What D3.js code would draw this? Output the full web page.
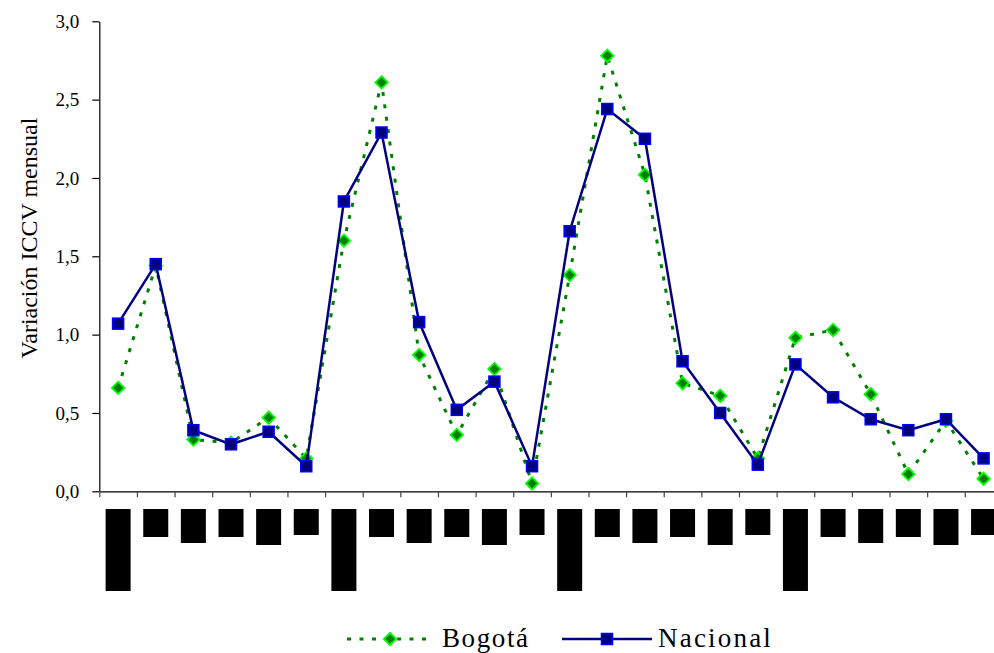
<!DOCTYPE html>
<html>
<head>
<meta charset="utf-8">
<script src="https://cdn.jsdelivr.net/npm/d3@7"></script>
<style>
  html, body { margin: 0; padding: 0; background: #fff; }
  svg { display: block; }
  svg text { font-family: "Liberation Serif", "DejaVu Serif", "Times New Roman", Times, serif; }
</style>
</head>
<body>
<svg id="chart" width="994" height="653"></svg>
<script>
// ---- data ----
const periods = d3.range(24);
const bogota = [0.66, 1.44, 0.33, 0.31, 0.47, 0.21, 1.60, 2.61, 0.87, 0.36, 0.78, 0.05,
                1.38, 2.78, 2.02, 0.69, 0.61, 0.21, 0.98, 1.03, 0.62, 0.11, 0.45, 0.08];
const nacional = [1.07, 1.45, 0.39, 0.30, 0.38, 0.16, 1.85, 2.29, 1.08, 0.52, 0.70, 0.16,
                  1.66, 2.44, 2.25, 0.83, 0.50, 0.17, 0.81, 0.60, 0.46, 0.39, 0.46, 0.21];
const yTicks = [0, 0.5, 1.0, 1.5, 2.0, 2.5, 3.0];
// category labels appear as solid black blocks in the original (relative label lengths)
const labelBlocks = [82, 28, 34, 28, 36, 26, 82, 28, 34, 28, 36, 26,
                     82, 28, 34, 28, 36, 26, 82, 28, 34, 28, 36, 26];
const seriesNames = ["Bogotá", "Nacional"];
const yTitle = "Variación ICCV mensual";

// ---- layout ----
const svg = d3.select("#chart");
const mLeft = 99.3, mRight = 1002.4, mTop = 21.3, mBottom = 491.3;
const fontSerif = '"Liberation Serif", "DejaVu Serif", "Times New Roman", Times, serif';

const x = d3.scaleBand().domain(periods).range([mLeft, mRight]).padding(0);
const xb = d3.scaleLinear().domain([0, periods.length]).range([mLeft, mRight]);
const y = d3.scaleLinear().domain([0, 3]).range([mBottom, mTop]);
const cx = i => x(i) + x.bandwidth() / 2;

// y axis
const yAxis = d3.axisLeft(y).tickValues(yTicks)
  .tickFormat(d => d.toFixed(1).replace(".", ","))
  .tickSize(7).tickSizeOuter(0).tickPadding(13);
const gy = svg.append("g").attr("transform", `translate(${mLeft},0)`).call(yAxis);
gy.attr("font-family", null).attr("font-size", null);
gy.selectAll("text").style("font-family", fontSerif).style("font-size", "19px").attr("fill", "#000");
gy.selectAll("line,path").attr("stroke", "#000").attr("stroke-width", 1.2);

// x axis (ticks at category boundaries)
const xAxis = d3.axisBottom(xb).tickValues(d3.range(0, periods.length + 1))
  .tickFormat("").tickSize(6).tickSizeOuter(0);
const gx = svg.append("g").attr("transform", `translate(0,${mBottom})`).call(xAxis);
gx.selectAll("line").attr("stroke", "#444").attr("stroke-width", 1.2);
gx.select("path").attr("stroke", "#000").attr("stroke-width", 1.2);

// category label blocks
svg.append("g").selectAll("rect").data(periods).join("rect")
  .attr("x", i => cx(i) - 12.5)
  .attr("y", mBottom + 17.7)
  .attr("width", 25)
  .attr("height", i => labelBlocks[i])
  .attr("fill", "#000");

// y title
svg.append("text")
  .attr("transform", "translate(37,238) rotate(-90)")
  .attr("text-anchor", "middle")
  .style("font-family", fontSerif).style("font-size", "24px")
  .text(yTitle);

// series
const line = d3.line().x((d, i) => cx(i)).y(d => y(d));
const diamond = (px, py, r) => `M${px},${py - r}L${px + r},${py}L${px},${py + r}L${px - r},${py}Z`;

// Bogotá
svg.append("path").datum(bogota).attr("d", line)
  .attr("fill", "none").attr("stroke", "#008000").attr("stroke-width", 3)
  .attr("stroke-dasharray", "4,8.5");
svg.append("g").selectAll("path").data(bogota).join("path")
  .attr("d", (d, i) => diamond(cx(i), y(d), 6.2))
  .attr("fill", "#008000").attr("stroke", "#00ff00").attr("stroke-width", 1.8);

// Nacional
svg.append("path").datum(nacional).attr("d", line)
  .attr("fill", "none").attr("stroke", "#000080").attr("stroke-width", 2.5);
svg.append("g").selectAll("rect").data(nacional).join("rect")
  .attr("x", (d, i) => cx(i) - 5.5).attr("y", d => y(d) - 5.5)
  .attr("width", 11).attr("height", 11)
  .attr("fill", "#000080").attr("stroke", "#0000ff").attr("stroke-width", 1.5);

// legend
const ly = 639;
const lg = svg.append("g");
lg.append("line").attr("x1", 347).attr("x2", 430).attr("y1", ly).attr("y2", ly)
  .attr("stroke", "#008000").attr("stroke-width", 3).attr("stroke-dasharray", "4,8.5");
lg.append("path").attr("d", diamond(390, ly, 6.2))
  .attr("fill", "#008000").attr("stroke", "#00ff00").attr("stroke-width", 1.8);
lg.append("text").attr("x", 442).attr("y", 647)
  .style("font-family", fontSerif).style("font-size", "27px").attr("letter-spacing", 1.6)
  .text(seriesNames[0]);
lg.append("line").attr("x1", 562).attr("x2", 652).attr("y1", ly).attr("y2", ly)
  .attr("stroke", "#000080").attr("stroke-width", 2.5);
lg.append("rect").attr("x", 607 - 5.5).attr("y", ly - 5.5).attr("width", 11).attr("height", 11)
  .attr("fill", "#000080").attr("stroke", "#0000ff").attr("stroke-width", 1.5);
lg.append("text").attr("x", 658).attr("y", 647)
  .style("font-family", fontSerif).style("font-size", "27px").attr("letter-spacing", 2.2)
  .text(seriesNames[1]);
</script>
</body>
</html>
